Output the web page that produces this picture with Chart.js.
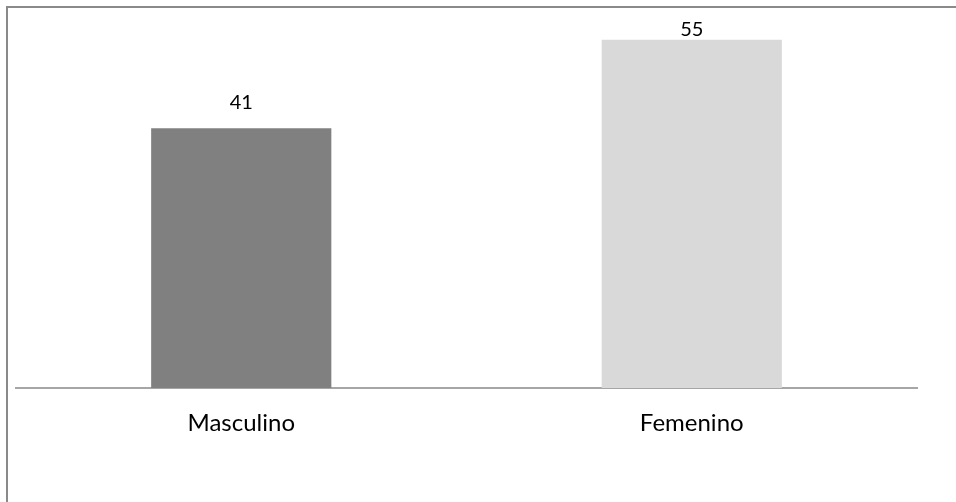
<!DOCTYPE html>
<html>
<head>
<meta charset="utf-8">
<script src="https://cdn.jsdelivr.net/npm/chart.js@4/dist/chart.umd.min.js"></script>
<style>
  html, body { margin: 0; padding: 0; background: #fff; }
  #wrap { position: relative; width: 956px; height: 502px; overflow: hidden; }
  #frame { position: absolute; left: 6px; top: 6px; width: 960px; height: 510px;
           border-left: 2px solid #8a8a8a; border-top: 2px solid #8a8a8a; box-sizing: border-box; }
  canvas { position: absolute; left: 0; top: 0; }
</style>
</head>
<body>
<div id="wrap">
  <div id="frame"></div>
  <canvas id="c" width="956" height="502"></canvas>
</div>
<script>
const categories = ['Masculino', 'Femenino'];
const values = [41, 55];
const barColors = ['#808080', '#d9d9d9'];

const FONT = 'Lato, "Open Sans", sans-serif';

// Value labels above each bar, kept inside the plot area
const valueLabels = {
  id: 'valueLabels',
  afterDatasetsDraw(chart) {
    const ctx = chart.ctx;
    const meta = chart.getDatasetMeta(0);
    const top = chart.chartArea.top;
    ctx.save();
    ctx.font = '20px ' + FONT;
    ctx.fillStyle = '#000';
    ctx.textAlign = 'center';
    ctx.textBaseline = 'alphabetic';
    meta.data.forEach((bar, i) => {
      const y = Math.max(bar.y - 19, top + 28);
      ctx.fillText(String(values[i]), bar.x, y);
    });
    ctx.restore();
  }
};

new Chart(document.getElementById('c'), {
  type: 'bar',
  data: {
    labels: categories,
    datasets: [{
      data: values,
      backgroundColor: barColors,
      borderWidth: 0,
      barPercentage: 0.4,
      categoryPercentage: 1.0
    }]
  },
  options: {
    responsive: false,
    animation: false,
    layout: { padding: { left: 16, right: 39, top: 8, bottom: 0 } },
    plugins: { legend: { display: false }, tooltip: { enabled: false } },
    scales: {
      x: {
        grid: { display: false, drawTicks: false },
        border: { display: true, color: '#a6a6a6', width: 2 },
        ticks: { color: '#000', font: { family: FONT, size: 24 }, padding: 21 },
        afterFit(scale) { scale.height = 114; }
      },
      y: {
        display: false,
        min: 0,
        max: 60
      }
    }
  },
  plugins: [valueLabels]
});
</script>
</body>
</html>
